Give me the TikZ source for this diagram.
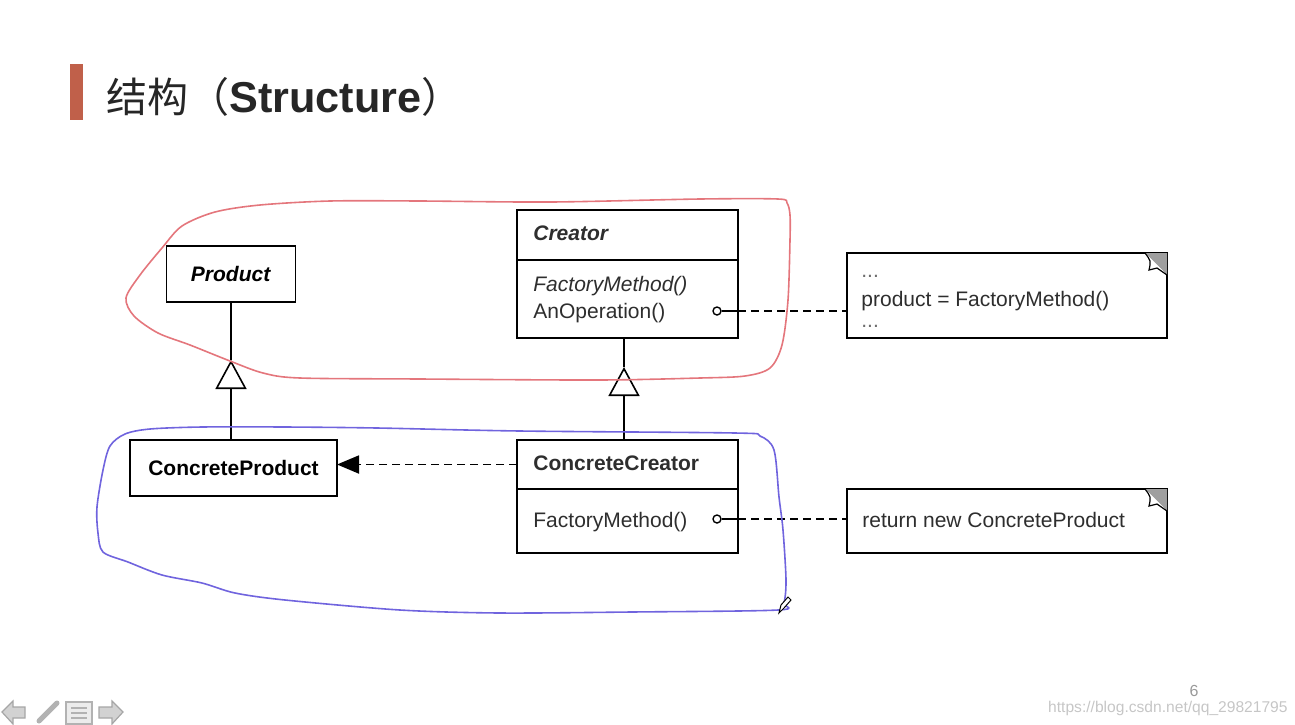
\documentclass[tikz,border=0pt]{standalone}
\usepackage{fontspec}
\setmainfont{Liberation Sans}
\newfontfamily\cjk{Noto Sans CJK SC}
\usetikzlibrary{positioning, arrows.meta, calc}

\begin{document}
\begin{tikzpicture}[x=0.5pt, y=-0.5pt, font=\fontsize{10.5}{12}\selectfont, >=latex]
        % colours
        \definecolor{accent}{RGB}{192,96,74}
        \definecolor{redink}{RGB}{228,118,124}
        \definecolor{blueink}{RGB}{112,100,222}
        \colorlet{textgray}{black!82}

        % styles
        \tikzset{
            umlbox/.style={draw, line width=0.8pt, fill=white, inner sep=0pt, outer sep=0pt, minimum width=110.5pt},
            notebox/.style={draw, line width=0.8pt, fill=white, inner sep=0pt, outer sep=0pt, minimum width=160pt},
            member/.style={anchor=base west, inner sep=0pt, text=textgray},
            inherit/.style={line width=0.8pt, -{Triangle[open, length=14.5pt, width=15.5pt]}},
            depend/.style={line width=0.9pt, dash pattern=on 4pt off 2.5pt, -{Triangle[length=11pt, width=9pt]}},
            notelink/.style={line width=0.9pt, dash pattern=on 4pt off 2.5pt},
            hookdot/.style={circle, draw, line width=0.7pt, fill=white, inner sep=0pt, minimum size=4pt},
            ink/.style={line width=0.8pt, line join=round}
        }

        % folded corner of a note
        \def\dogear#1{
            \fill[gray!75] ($(#1.north east)+(-22,0)$) -- (#1.north east) -- ($(#1.north east)+(0,22)$) -- cycle;
            \filldraw[fill=white, line width=0.6pt] ($(#1.north east)+(-22,0)$)
                .. controls ($(#1.north east)+(-16,8)$) .. ($(#1.north east)+(-18,17)$)
                -- ($(#1.north east)+(-10,15)$)
                .. controls ($(#1.north east)+(-5,18)$) .. ($(#1.north east)+(0,22)$);
        }

        \useasboundingbox (0,0) rectangle (1295,724);

        % --- title ---
        \fill[accent] (70,64) rectangle (83,120);
        \node[anchor=base west, inner sep=0pt, text=black!85, font=\fontsize{20.5}{24}\selectfont] (title) at (106,112)
            {{\cjk 结构（}{\fontsize{21.6}{24}\selectfont\textbf{Structure}}{\cjk ）}};

        % --- classes ---
        \node[umlbox, minimum width=64.5pt, minimum height=28pt] (prod) at (231,274) {\textbf{\textit{Product}}};
        \node[umlbox, minimum height=25pt] (creatorHead) at (627.5,235) {};
        \node[umlbox, minimum height=39pt, below=0pt of creatorHead] (creatorBody) {};
        \node[member] (creatorName) at (533,240) {\textbf{\textit{Creator}}};
        \node[member] (creatorFm) at (533,291) {\textit{FactoryMethod()}};
        \node[member] (creatorOp) at (533,318) {AnOperation()};

        \node[umlbox, minimum width=103.5pt, minimum height=28pt] (cprod) at (233.5,468) {\textbf{ConcreteProduct}};
        \node[umlbox, minimum height=24.5pt] (ccHead) at (627.5,464.5) {};
        \node[umlbox, minimum height=32pt, below=0pt of ccHead] (ccBody) {};
        \node[member] (ccName) at (533,470) {\textbf{ConcreteCreator}};
        \node[member] (ccFm) at (533,527) {FactoryMethod()};

        % --- notes ---
        \node[notebox, minimum height=42.5pt] (note1) at (1007,295.5) {};
        \dogear{note1}
        \node[member, text=textgray!70] (note1a) at (861,277) {...};
        \node[member] (note1b) at (861,306) {product = FactoryMethod()};
        \node[member, text=textgray!70] (note1c) at (861,327) {...};

        \node[notebox, minimum height=32pt] (note2) at (1007,521) {};
        \dogear{note2}
        \node[member] (note2a) at (862,527) {return new ConcreteProduct};

        % --- connectors ---
        \coordinate (prodTip) at (231,360);
        \draw[line width=0.8pt] (prod.south) -- (prodTip);
        \draw[inherit] (prodTip |- cprod.north) -- (prodTip);

        \coordinate (creatorTip) at (624,367);
        \draw[line width=0.8pt] (creatorTip |- creatorBody.south) -- (creatorTip);
        \draw[inherit] (creatorTip |- ccHead.north) -- (creatorTip);

        \draw[depend] (ccHead.west) -- (ccHead.west -| cprod.east);

        \node[hookdot] (opDot) at (717,311) {};
        \draw[line width=0.8pt] (opDot) -- (opDot -| creatorBody.east);
        \draw[notelink] (opDot -| creatorBody.east) -- (opDot -| note1.west);

        \node[hookdot] (fmDot) at (717,519) {};
        \draw[line width=0.8pt] (fmDot) -- (fmDot -| ccBody.east);
        \draw[notelink] (fmDot -| ccBody.east) -- (fmDot -| note2.west);

        % --- hand-drawn loops ---
        \draw[ink, redink] plot[smooth cycle, tension=0.5] coordinates {
            (778,199) (700,199) (551,202) (420,201) (330,201) (260,205) (215,212) (182,226)
            (162,248) (140,275) (126,298) (134,316) (158,333) (190,345) (230,361) (263,373)
            (300,378) (420,379) (598,380) (700,378) (745,376) (770,368) (782,345) (788,300)
            (790,240) (790,215) (787,203)};
        \draw[ink, blueink] plot[smooth cycle, tension=0.5] coordinates {
            (125,434) (150,429) (202,427) (285,427) (377,428) (520,431) (735,433)
            (760,436) (774,450) (779,497) (783,530) (786,580) (784,603) (778,610) (631,612)
            (500,613) (400,610) (285,600) (235,593) (202,583) (162,575) (128,562) (103,552)
            (98,533) (97,507) (103,470) (110,446)};
        \draw[line width=0.5pt, fill=white] (779,613) -- (781,605) -- (788,597) -- (791,600) -- (784,608) -- cycle;

        % --- footer ---
        \filldraw[fill=gray!35, draw=gray!70, line width=0.6pt] (2,712) -- (13,701) -- (13,707) -- (25,707) -- (25,718) -- (13,718) -- (13,724) -- cycle;
        \draw[gray!60, line width=2.5pt, line cap=round] (39,721) -- (57,703);
        \filldraw[fill=gray!15, draw=gray!60, line width=0.6pt] (66,702) rectangle (92,724);
        \foreach \y in {708,713,718} {
            \draw[gray!60, line width=1.2pt] (71,\y) -- (87,\y);
        }
        \filldraw[fill=gray!35, draw=gray!70, line width=0.6pt] (123,712) -- (112,701) -- (112,707) -- (99,707) -- (99,718) -- (112,718) -- (112,724) -- cycle;

        \node[inner sep=0pt, text=gray!80, font=\fontsize{8}{9}\selectfont] (pageNo) at (1194,691) {6};
        \node[anchor=east, inner sep=0pt, text=gray!45, font=\fontsize{7.8}{9}\selectfont] (mark) at (1288,708) {https://blog.csdn.net/qq\_29821795};
    \end{tikzpicture}
\end{document}
